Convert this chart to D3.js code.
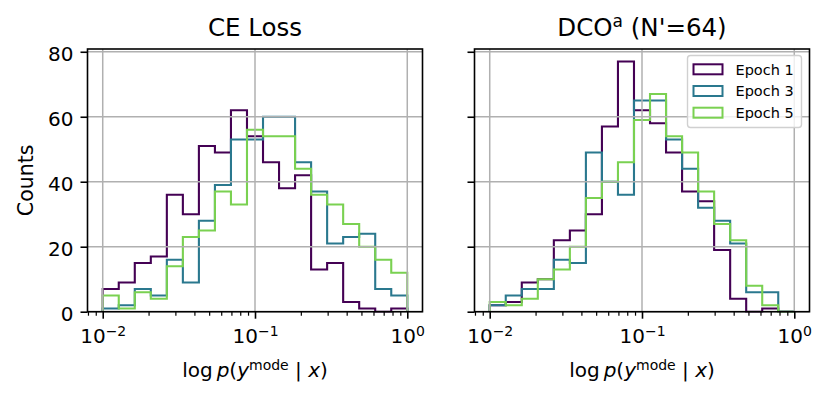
<!DOCTYPE html>
<html>
<head>
<meta charset="utf-8">
<script src="https://cdn.jsdelivr.net/npm/d3@7"></script>
<style>
  body { margin: 0; background: #fff; }
  text { font-family: "DejaVu Sans", sans-serif; }
</style>
</head>
<body>
<svg id="chart"></svg>
<script>
// log-spaced bin edges, 19 bins from 1e-2 to 1e0
var binEdges = [0.01, 0.012743, 0.016238, 0.020691, 0.026367, 0.033598, 0.042813,
                0.054556, 0.069519, 0.088587, 0.112884, 0.143845, 0.183298, 0.233572,
                0.297635, 0.379269, 0.483293, 0.615848, 0.784760, 1.0];

// counts
var ceEpoch1 = [7, 9, 15, 17, 36, 30, 51, 49, 62, 54, 46, 38, 42, 13, 15, 3, 1, 0, 1];
var ceEpoch3 = [1, 2, 7, 5, 16, 9, 28, 39, 53, 53, 60, 60, 46, 37, 21, 23, 24, 7, 5];
var ceEpoch5 = [5, 1, 6, 4, 14, 23, 25, 37, 33, 56, 54, 54, 44, 36, 33, 27, 20, 16, 12];

var dcoEpoch1 = [2, 3, 9, 10, 22, 25, 30, 57, 77, 62, 58, 49, 37, 34, 19, 4, 0, 1, 0];
var dcoEpoch3 = [2, 5, 7, 7, 16, 15, 49, 40, 36, 65, 65, 53, 44, 32, 28, 21, 6, 6, 0];
var dcoEpoch5 = [3, 2, 4, 10, 13, 20, 35, 40, 46, 59, 67, 54, 49, 37, 27, 22, 8, 2, 0];

var epochs = ["Epoch 1", "Epoch 3", "Epoch 5"];
var colors = ["#440154", "#2a788e", "#7ad151"];

var xTicks = [0.01, 0.1, 1];
var xTickExp = ["\u22122", "\u22121", "0"];
var yTicks = [0, 20, 40, 60, 80];

var screen = { width: 829, height: 403 };
var svg = d3.select("#chart")
            .attr("width", screen.width)
            .attr("height", screen.height)
            .style("display", "block");

var plotTop = 49, plotBottom = 311.7;
var plotH = plotBottom - plotTop;
var panelW = 335;
var panels = [
  { left: 87.5,  title: "CE Loss", series: [ceEpoch1, ceEpoch3, ceEpoch5], yLabels: true },
  { left: 474.5, title: null,      series: [dcoEpoch1, dcoEpoch3, dcoEpoch5], yLabels: false }
];

var xScale = d3.scaleLog()
               .domain([Math.pow(10, -2.1), Math.pow(10, 0.1)])
               .range([0, panelW]);
var yScale = d3.scaleLinear()
               .domain([0, 80.85])
               .range([plotH, 0]);

// minor ticks 2..9 in every decade that shows
var minorTicks = [];
[-3, -2, -1, 0].forEach(function(p) {
  for (var k = 2; k <= 9; k++) {
    var v = k * Math.pow(10, p);
    if (v > xScale.domain()[0] && v < xScale.domain()[1]) minorTicks.push(v);
  }
});

var stepLine = d3.line()
                 .x(function(d) { return xScale(d[0]); })
                 .y(function(d) { return yScale(d[1]); });

var stepPoints = function(counts) {
  var pts = [[binEdges[0], 0]];
  counts.forEach(function(c, i) {
    pts.push([binEdges[i], c]);
    pts.push([binEdges[i + 1], c]);
  });
  pts.push([binEdges[binEdges.length - 1], 0]);
  return pts;
};

panels.forEach(function(p) {
  var plot = svg.append("g")
                .attr("transform", "translate(" + p.left + "," + plotTop + ")");

  // histograms
  p.series.forEach(function(counts, i) {
    plot.append("path")
        .attr("d", stepLine(stepPoints(counts)))
        .attr("fill", "none")
        .attr("stroke", colors[i])
        .attr("stroke-width", 2.1)
        .attr("stroke-linejoin", "miter");
  });

  // grid (matplotlib puts it over patches)
  var grid = plot.append("g").attr("stroke", "#b0b0b0").attr("stroke-width", 1.5);
  grid.selectAll("line.gx").data(xTicks).enter().append("line")
      .attr("x1", function(d) { return xScale(d); })
      .attr("x2", function(d) { return xScale(d); })
      .attr("y1", 0).attr("y2", plotH);
  grid.selectAll("line.gy").data(yTicks).enter().append("line")
      .attr("y1", function(d) { return yScale(d); })
      .attr("y2", function(d) { return yScale(d); })
      .attr("x1", 0).attr("x2", panelW);

  // x axis
  var xAxis = d3.axisBottom(xScale).tickValues(xTicks).tickSize(7).tickFormat(function() { return ""; });
  var gx = plot.append("g")
               .attr("transform", "translate(0," + plotH + ")")
               .call(xAxis);
  gx.select(".domain").remove();
  gx.selectAll(".tick line").attr("stroke-width", 1.6);
  gx.selectAll(".tick text")
    .attr("font-size", 20)
    .attr("fill", "#000")
    .attr("font-family", "DejaVu Sans")
    .attr("y", 31.6)
    .attr("dy", 0)
    .each(function(d, i) {
      var t = d3.select(this);
      t.append("tspan").text("10");
      t.append("tspan").attr("dy", -7).attr("font-size", 14).text(xTickExp[i]);
    });

  var gxm = plot.append("g")
                .attr("transform", "translate(0," + plotH + ")")
                .call(d3.axisBottom(xScale).tickValues(minorTicks).tickSize(4).tickFormat(""));
  gxm.select(".domain").remove();
  gxm.selectAll(".tick line").attr("stroke-width", 1.2);

  // y axis
  var yAxis = d3.axisLeft(yScale).tickValues(yTicks).tickSize(7).tickPadding(7);
  if (!p.yLabels) yAxis.tickFormat("");
  var gy = plot.append("g").call(yAxis);
  gy.select(".domain").remove();
  gy.selectAll(".tick line").attr("stroke-width", 1.6);
  gy.selectAll(".tick text")
    .attr("font-size", 20)
    .attr("dy", "0.45em")
    .attr("fill", "#000")
    .attr("font-family", "DejaVu Sans");

  // frame
  plot.append("rect")
      .attr("width", panelW).attr("height", plotH)
      .attr("fill", "none").attr("stroke", "#000").attr("stroke-width", 1.6);

  // title
  var title = plot.append("text")
                  .attr("x", panelW / 2).attr("y", -13)
                  .attr("text-anchor", "middle")
                  .attr("font-size", 24.5);
  if (p.title) {
    title.text(p.title);
  } else {
    title.append("tspan").text("DCO");
    title.append("tspan").attr("dy", -9).attr("font-size", 17).text("a");
    title.append("tspan").attr("dy", 9).text(" (N'=64)");
  }

  // x label:  log p(y^mode | x)
  var xl = plot.append("text")
               .attr("x", panelW / 2).attr("y", 377 - plotTop)
               .attr("text-anchor", "middle")
               .attr("font-size", 20);
  xl.append("tspan").text("log\u2009");
  xl.append("tspan").attr("font-style", "italic").text("p");
  xl.append("tspan").text("(");
  xl.append("tspan").attr("font-style", "italic").text("y");
  xl.append("tspan").attr("dy", -7.5).attr("font-size", 14).text("mode");
  xl.append("tspan").attr("dy", 7.5).text(" | ");
  xl.append("tspan").attr("font-style", "italic").text("x");
  xl.append("tspan").text(")");
});

// y label
svg.append("text")
   .attr("transform", "translate(32.5," + ((plotTop + plotBottom) / 2) + ") rotate(-90)")
   .attr("text-anchor", "middle")
   .attr("font-size", 20.5)
   .text("Counts");

// legend
var legend = svg.append("g")
                .attr("transform", "translate(687.5,55.5)");
legend.append("rect")
      .attr("width", 114).attr("height", 72)
      .attr("rx", 3).attr("ry", 3)
      .attr("fill", "#fff").attr("fill-opacity", 0.8)
      .attr("stroke", "#d0d0d0").attr("stroke-width", 1.4);

var legendLines = legend.selectAll("g.legendLine")
                        .data(epochs)
                        .enter()
                        .append("g")
                        .classed("legendLine", true)
                        .attr("transform", function(d, i) { return "translate(0," + (13.8 + i * 21.7) + ")"; });

legendLines.append("rect")
           .attr("x", 6).attr("y", -5)
           .attr("width", 29).attr("height", 10)
           .attr("fill", "none")
           .attr("stroke", function(d, i) { return colors[i]; })
           .attr("stroke-width", 2);

legendLines.append("text")
           .attr("x", 48).attr("y", 5.2)
           .attr("font-size", 14.5)
           .text(function(d) { return d; });
</script>
</body>
</html>
